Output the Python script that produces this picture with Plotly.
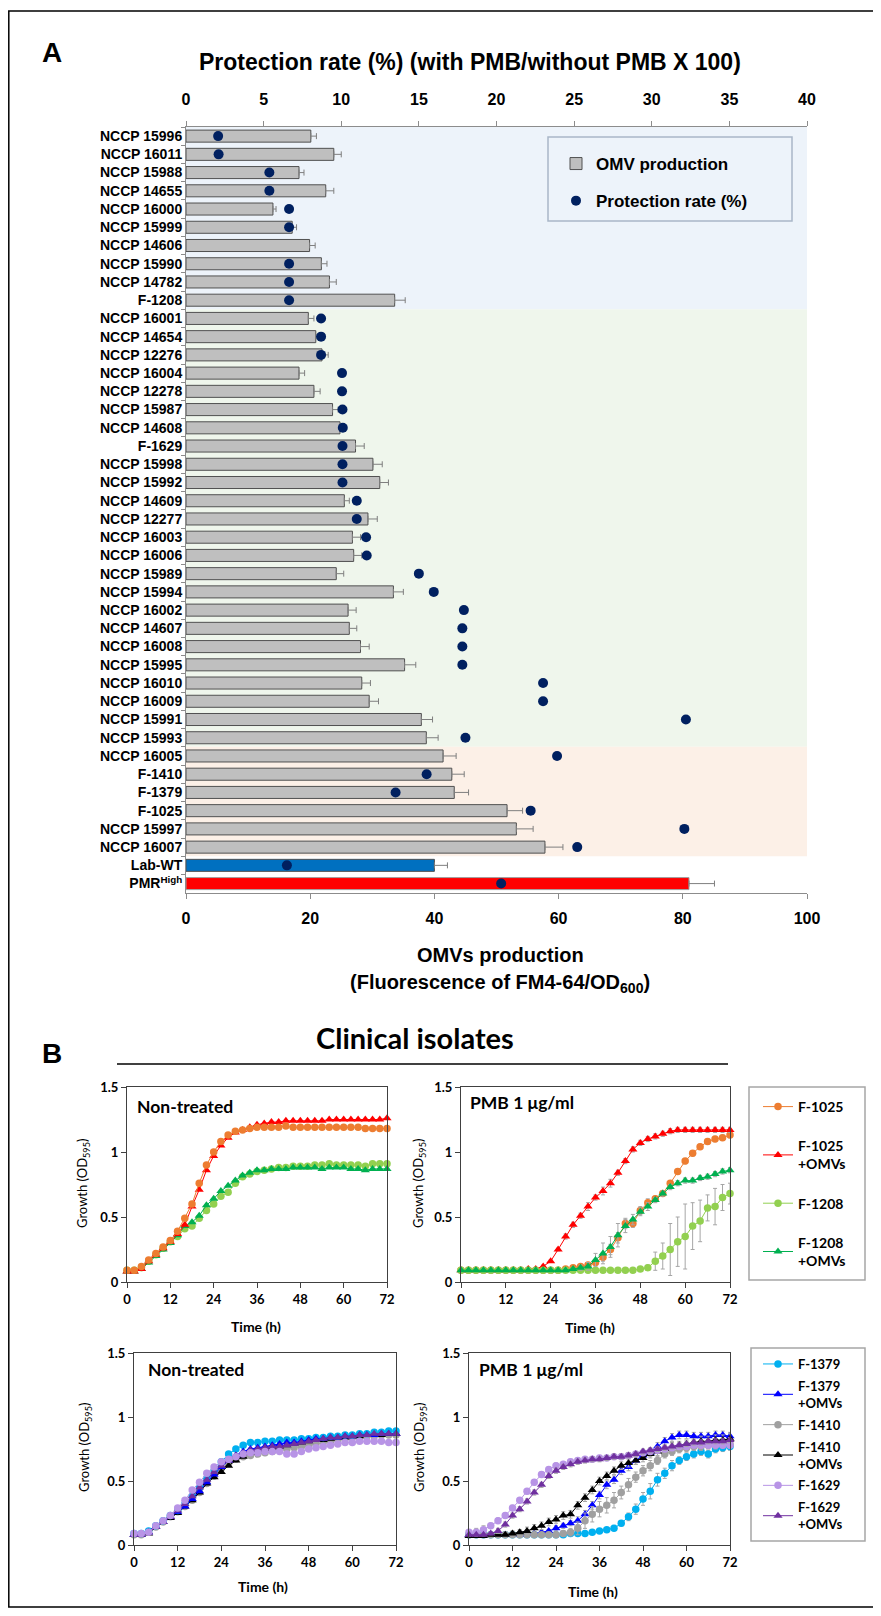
import plotly.graph_objects as go

# page body has an 8px margin: figure is offset by 8px, so map screen px -> figure
OFF = 8
W, H = 881, 1616
FW, FH = W - OFF, H - OFF
def fx(p): return (p - OFF) / FW
def fy(p): return 1 - (p - OFF) / FH

NARROW = "Liberation Sans Narrow, Arial Narrow, Liberation Sans, Arial, sans-serif"
SANS = "Lato, Open Sans, sans-serif"

# ---------------- Panel A data ----------------
categories = [
    "NCCP 15996", "NCCP 16011", "NCCP 15988", "NCCP 14655", "NCCP 16000",
    "NCCP 15999", "NCCP 14606", "NCCP 15990", "NCCP 14782", "F-1208",
    "NCCP 16001", "NCCP 14654", "NCCP 12276", "NCCP 16004", "NCCP 12278",
    "NCCP 15987", "NCCP 14608", "F-1629", "NCCP 15998", "NCCP 15992",
    "NCCP 14609", "NCCP 12277", "NCCP 16003", "NCCP 16006", "NCCP 15989",
    "NCCP 15994", "NCCP 16002", "NCCP 14607", "NCCP 16008", "NCCP 15995",
    "NCCP 16010", "NCCP 16009", "NCCP 15991", "NCCP 15993", "NCCP 16005",
    "F-1410", "F-1379", "F-1025", "NCCP 15997", "NCCP 16007",
    "Lab-WT", "PMR<sup>High</sup>",
]
omv_production = [
    20.1, 23.8, 18.2, 22.5, 14.0, 17.1, 19.9, 21.8, 23.1, 33.6,
    19.7, 20.9, 21.9, 18.2, 20.6, 23.6, 24.8, 27.3, 30.1, 31.2,
    25.5, 29.3, 26.8, 27.0, 24.2, 33.4, 26.1, 26.3, 28.1, 35.2,
    28.3, 29.5, 37.9, 38.7, 41.4, 42.8, 43.2, 51.7, 53.2, 57.8,
    40.0, 81.0,
]
omv_error = [
    0.9, 1.2, 0.8, 1.3, 0.5, 0.7, 0.9, 0.9, 1.1, 1.7,
    0.9, 0.4, 1.0, 0.9, 1.0, 0.9, 0.7, 1.4, 1.5, 1.4,
    0.8, 1.5, 1.3, 1.3, 1.2, 1.6, 1.3, 1.2, 1.4, 1.8,
    1.4, 1.5, 1.8, 1.9, 2.1, 2.0, 2.3, 2.5, 2.7, 2.9,
    2.1, 4.1,
]
protection_rate = [
    2.07, 2.10, 5.37, 5.37, 6.64, 6.64, None, 6.64, 6.64, 6.64,
    8.70, 8.70, 8.70, 10.05, 10.05, 10.08, 10.10, 10.08, 10.08, 10.08,
    11.0, 11.0, 11.6, 11.64, 15.0, 15.96, 17.9, 17.8, 17.8, 17.8,
    23.0, 23.0, 32.2, 18.0, 23.9, 15.5, 13.5, 22.2, 32.1, 25.2,
    6.5, 20.3,
]
omv_ticks = [0, 20, 40, 60, 80, 100]
prot_ticks = [0, 5, 10, 15, 20, 25, 30, 35, 40]

# ---------------- Panel B data ----------------
time_h = [0, 2, 4, 6, 8, 10, 12, 14, 16, 18, 20, 22, 24, 26, 28, 30, 32, 34, 36,
          38, 40, 42, 44, 46, 48, 50, 52, 54, 56, 58, 60, 62, 64, 66, 68, 70, 72]
time_ticks = [0, 12, 24, 36, 48, 60, 72]

# Non-treated, group 1
nt_f1025 = [0.09, 0.09, 0.12, 0.17, 0.22, 0.27, 0.32, 0.39, 0.49, 0.60,
            0.76, 0.90, 1.00, 1.08, 1.13, 1.16, 1.17, 1.18, 1.19, 1.19,
            1.19, 1.19, 1.20, 1.19, 1.19, 1.19, 1.19, 1.19, 1.19, 1.19,
            1.19, 1.19, 1.19, 1.18, 1.18, 1.18, 1.18]
nt_f1025_omv = [0.08, 0.08, 0.10, 0.16, 0.21, 0.26, 0.31, 0.37, 0.44, 0.58,
                0.71, 0.86, 0.97, 1.05, 1.11, 1.15, 1.17, 1.19, 1.21, 1.22,
                1.23, 1.23, 1.24, 1.24, 1.24, 1.24, 1.24, 1.24, 1.25, 1.25,
                1.25, 1.25, 1.25, 1.25, 1.25, 1.25, 1.26]
nt_f1208 = [0.09, 0.09, 0.11, 0.16, 0.21, 0.26, 0.31, 0.35, 0.41, 0.43,
            0.49, 0.55, 0.60, 0.66, 0.69, 0.76, 0.81, 0.83, 0.85, 0.86,
            0.87, 0.88, 0.88, 0.89, 0.89, 0.89, 0.90, 0.90, 0.91, 0.90,
            0.90, 0.90, 0.90, 0.89, 0.91, 0.91, 0.91]
nt_f1208_omv = [0.08, 0.08, 0.10, 0.15, 0.20, 0.25, 0.30, 0.36, 0.43, 0.46,
                0.51, 0.59, 0.64, 0.70, 0.74, 0.78, 0.82, 0.84, 0.86, 0.86,
                0.87, 0.87, 0.87, 0.88, 0.88, 0.88, 0.88, 0.87, 0.88, 0.88,
                0.88, 0.87, 0.87, 0.86, 0.87, 0.87, 0.87]

# PMB 1 ug/ml, group 1
pmb_f1025 = [0.09, 0.09, 0.09, 0.09, 0.09, 0.09, 0.09, 0.09, 0.09, 0.09,
             0.09, 0.09, 0.09, 0.09, 0.10, 0.11, 0.12, 0.13, 0.15, 0.19,
             0.25, 0.34, 0.45, 0.45, 0.55, 0.61, 0.64, 0.68, 0.76, 0.85,
             0.93, 0.99, 1.04, 1.08, 1.10, 1.11, 1.13]
pmb_f1025_err = [0.01, 0.01, 0.01, 0.01, 0.01, 0.01, 0.01, 0.01, 0.01, 0.01,
                 0.01, 0.01, 0.01, 0.01, 0.01, 0.01, 0.01, 0.02, 0.02, 0.03,
                 0.04, 0.04, 0.04, 0.03, 0.03, 0.03, 0.02, 0.02, 0.02, 0.02,
                 0.02, 0.02, 0.02, 0.02, 0.02, 0.02, 0.02]
pmb_f1025_omv = [0.09, 0.09, 0.09, 0.09, 0.09, 0.09, 0.09, 0.09, 0.09, 0.10,
                 0.10, 0.12, 0.16, 0.25, 0.35, 0.44, 0.51, 0.58, 0.65, 0.70,
                 0.76, 0.84, 0.93, 1.02, 1.07, 1.10, 1.12, 1.14, 1.16, 1.17,
                 1.17, 1.17, 1.17, 1.17, 1.17, 1.17, 1.17]
pmb_f1025_omv_err = [0.01, 0.01, 0.01, 0.01, 0.01, 0.01, 0.01, 0.01, 0.01, 0.01,
                     0.01, 0.01, 0.01, 0.01, 0.02, 0.02, 0.02, 0.03, 0.02, 0.03,
                     0.03, 0.02, 0.02, 0.02, 0.02, 0.02, 0.02, 0.02, 0.02, 0.02,
                     0.02, 0.02, 0.02, 0.02, 0.02, 0.02, 0.02]
pmb_f1208 = [0.09, 0.09, 0.09, 0.09, 0.09, 0.09, 0.09, 0.09, 0.09, 0.09,
             0.09, 0.09, 0.09, 0.09, 0.09, 0.09, 0.09, 0.09, 0.09, 0.09,
             0.09, 0.09, 0.09, 0.09, 0.10, 0.11, 0.16, 0.20, 0.25, 0.31,
             0.35, 0.43, 0.47, 0.57, 0.58, 0.65, 0.68]
pmb_f1208_err = [0.01, 0.01, 0.01, 0.01, 0.01, 0.01, 0.01, 0.01, 0.01, 0.01,
                 0.01, 0.01, 0.01, 0.01, 0.01, 0.01, 0.01, 0.01, 0.01, 0.01,
                 0.01, 0.01, 0.01, 0.01, 0.01, 0.02, 0.07, 0.10, 0.20, 0.19,
                 0.25, 0.18, 0.16, 0.10, 0.14, 0.10, 0.08]
pmb_f1208_omv = [0.09, 0.09, 0.09, 0.09, 0.09, 0.09, 0.09, 0.09, 0.09, 0.09,
                 0.09, 0.09, 0.09, 0.09, 0.09, 0.10, 0.11, 0.12, 0.17, 0.22,
                 0.27, 0.36, 0.43, 0.48, 0.54, 0.58, 0.63, 0.68, 0.73, 0.76,
                 0.78, 0.78, 0.80, 0.81, 0.83, 0.85, 0.86]
pmb_f1208_omv_err = [0.01, 0.01, 0.01, 0.01, 0.01, 0.01, 0.01, 0.01, 0.01, 0.01,
                     0.01, 0.01, 0.01, 0.01, 0.01, 0.01, 0.02, 0.03, 0.05, 0.08,
                     0.08, 0.09, 0.05, 0.04, 0.03, 0.03, 0.02, 0.02, 0.02, 0.02,
                     0.02, 0.02, 0.02, 0.02, 0.02, 0.02, 0.02]

# Non-treated, group 2
nt_f1379 = [0.09, 0.09, 0.11, 0.15, 0.19, 0.23, 0.27, 0.32, 0.38, 0.45,
            0.52, 0.58, 0.65, 0.71, 0.75, 0.78, 0.80, 0.80, 0.81, 0.81,
            0.82, 0.82, 0.82, 0.83, 0.83, 0.84, 0.84, 0.85, 0.85, 0.86,
            0.86, 0.87, 0.87, 0.88, 0.88, 0.89, 0.89]
nt_f1379_omv = [0.08, 0.08, 0.10, 0.14, 0.18, 0.22, 0.26, 0.30, 0.36, 0.42,
                0.49, 0.55, 0.61, 0.66, 0.70, 0.73, 0.75, 0.76, 0.77, 0.78,
                0.79, 0.80, 0.80, 0.81, 0.82, 0.83, 0.83, 0.84, 0.84, 0.85,
                0.85, 0.86, 0.86, 0.86, 0.87, 0.87, 0.87]
nt_f1410 = [0.08, 0.08, 0.10, 0.14, 0.18, 0.22, 0.26, 0.30, 0.35, 0.41,
            0.48, 0.54, 0.60, 0.64, 0.67, 0.69, 0.70, 0.71, 0.72, 0.73,
            0.74, 0.75, 0.76, 0.77, 0.78, 0.79, 0.80, 0.81, 0.82, 0.83,
            0.84, 0.84, 0.85, 0.85, 0.86, 0.86, 0.86]
nt_f1410_omv = [0.08, 0.08, 0.09, 0.14, 0.18, 0.21, 0.25, 0.30, 0.35, 0.41,
                0.48, 0.53, 0.57, 0.62, 0.66, 0.69, 0.72, 0.74, 0.75, 0.76,
                0.77, 0.78, 0.79, 0.80, 0.81, 0.82, 0.82, 0.83, 0.84, 0.84,
                0.85, 0.85, 0.86, 0.86, 0.86, 0.87, 0.87]
nt_f1629 = [0.09, 0.09, 0.10, 0.15, 0.19, 0.23, 0.29, 0.35, 0.43, 0.49,
            0.56, 0.61, 0.65, 0.67, 0.69, 0.71, 0.72, 0.72, 0.73, 0.73,
            0.73, 0.71, 0.71, 0.73, 0.75, 0.76, 0.77, 0.78, 0.79, 0.80,
            0.80, 0.81, 0.81, 0.81, 0.81, 0.80, 0.80]
nt_f1629_omv = [0.08, 0.08, 0.10, 0.14, 0.18, 0.22, 0.27, 0.32, 0.38, 0.45,
                0.51, 0.57, 0.62, 0.66, 0.70, 0.72, 0.74, 0.75, 0.76, 0.77,
                0.77, 0.78, 0.79, 0.80, 0.81, 0.82, 0.83, 0.84, 0.84, 0.85,
                0.85, 0.86, 0.86, 0.87, 0.87, 0.87, 0.87]

# PMB 1 ug/ml, group 2
pmb_f1379 = [0.08, 0.08, 0.08, 0.08, 0.08, 0.08, 0.08, 0.08, 0.08, 0.08,
             0.08, 0.08, 0.08, 0.08, 0.09, 0.09, 0.09, 0.10, 0.11, 0.12,
             0.13, 0.17, 0.22, 0.28, 0.36, 0.42, 0.51, 0.56, 0.62, 0.66,
             0.69, 0.71, 0.73, 0.71, 0.75, 0.76, 0.77]
pmb_f1379_err = [0.01, 0.01, 0.01, 0.01, 0.01, 0.01, 0.01, 0.01, 0.01, 0.01,
                 0.01, 0.01, 0.01, 0.01, 0.01, 0.01, 0.01, 0.01, 0.01, 0.01,
                 0.01, 0.02, 0.03, 0.04, 0.05, 0.06, 0.05, 0.04, 0.04, 0.03,
                 0.03, 0.03, 0.03, 0.03, 0.03, 0.03, 0.03]
pmb_f1379_omv = [0.08, 0.08, 0.08, 0.08, 0.08, 0.08, 0.08, 0.08, 0.085, 0.09,
                 0.10, 0.11, 0.13, 0.15, 0.17, 0.19, 0.24, 0.31, 0.39, 0.47,
                 0.51, 0.58, 0.61, 0.66, 0.70, 0.72, 0.77, 0.81, 0.84, 0.86,
                 0.86, 0.85, 0.85, 0.85, 0.86, 0.86, 0.85]
pmb_f1379_omv_err = [0.01, 0.01, 0.01, 0.01, 0.01, 0.01, 0.01, 0.01, 0.01, 0.01,
                     0.01, 0.01, 0.02, 0.02, 0.02, 0.03, 0.03, 0.03, 0.03, 0.03,
                     0.03, 0.03, 0.03, 0.03, 0.03, 0.03, 0.03, 0.03, 0.03, 0.03,
                     0.03, 0.03, 0.03, 0.03, 0.03, 0.03, 0.03]
pmb_f1410 = [0.08, 0.08, 0.08, 0.08, 0.08, 0.08, 0.08, 0.08, 0.08, 0.08,
             0.08, 0.08, 0.08, 0.09, 0.10, 0.13, 0.19, 0.24, 0.28, 0.31,
             0.35, 0.41, 0.47, 0.53, 0.58, 0.62, 0.66, 0.71, 0.73, 0.75,
             0.76, 0.77, 0.77, 0.78, 0.78, 0.79, 0.79]
pmb_f1410_err = [0.01, 0.01, 0.01, 0.01, 0.01, 0.01, 0.01, 0.01, 0.01, 0.01,
                 0.01, 0.01, 0.02, 0.02, 0.03, 0.05, 0.06, 0.06, 0.06, 0.06,
                 0.06, 0.05, 0.05, 0.04, 0.04, 0.04, 0.03, 0.03, 0.03, 0.03,
                 0.03, 0.03, 0.03, 0.03, 0.03, 0.03, 0.03]
pmb_f1410_omv = [0.07, 0.07, 0.07, 0.08, 0.08, 0.08, 0.09, 0.10, 0.11, 0.13,
                 0.15, 0.18, 0.20, 0.23, 0.24, 0.31, 0.37, 0.43, 0.50, 0.54,
                 0.58, 0.62, 0.64, 0.66, 0.68, 0.71, 0.73, 0.75, 0.77, 0.78,
                 0.79, 0.80, 0.81, 0.81, 0.82, 0.82, 0.83]
pmb_f1410_omv_err = [0.01, 0.01, 0.01, 0.02, 0.02, 0.02, 0.02, 0.02, 0.03, 0.03,
                     0.03, 0.03, 0.03, 0.03, 0.03, 0.03, 0.03, 0.03, 0.03, 0.03,
                     0.03, 0.03, 0.03, 0.03, 0.03, 0.03, 0.03, 0.03, 0.03, 0.03,
                     0.03, 0.03, 0.04, 0.04, 0.04, 0.04, 0.04]
pmb_f1629 = [0.10, 0.10, 0.12, 0.15, 0.19, 0.23, 0.29, 0.35, 0.42, 0.49,
             0.55, 0.59, 0.62, 0.63, 0.65, 0.66, 0.67, 0.67, 0.68, 0.68,
             0.69, 0.69, 0.70, 0.71, 0.72, 0.73, 0.74, 0.75, 0.76, 0.77,
             0.77, 0.78, 0.78, 0.78, 0.78, 0.78, 0.78]
pmb_f1629_err = [0.02, 0.03, 0.03, 0.02, 0.02, 0.02, 0.02, 0.02, 0.02, 0.02,
                 0.02, 0.02, 0.02, 0.02, 0.02, 0.02, 0.02, 0.02, 0.02, 0.02,
                 0.02, 0.02, 0.02, 0.02, 0.02, 0.02, 0.02, 0.02, 0.02, 0.02,
                 0.02, 0.02, 0.02, 0.02, 0.02, 0.02, 0.02]
pmb_f1629_omv = [0.08, 0.08, 0.08, 0.09, 0.11, 0.16, 0.23, 0.28, 0.34, 0.41,
                 0.47, 0.54, 0.58, 0.61, 0.63, 0.65, 0.66, 0.67, 0.67, 0.68,
                 0.69, 0.69, 0.70, 0.71, 0.73, 0.74, 0.75, 0.76, 0.77, 0.78,
                 0.79, 0.80, 0.80, 0.81, 0.81, 0.81, 0.82]
pmb_f1629_omv_err = [0.01, 0.01, 0.01, 0.01, 0.02, 0.02, 0.02, 0.02, 0.02, 0.02,
                     0.02, 0.02, 0.02, 0.02, 0.02, 0.02, 0.02, 0.02, 0.02, 0.02,
                     0.02, 0.02, 0.02, 0.02, 0.02, 0.02, 0.02, 0.02, 0.02, 0.02,
                     0.02, 0.02, 0.02, 0.02, 0.02, 0.02, 0.02]

# ---------------- styles ----------------
C_ORANGE, C_RED, C_LGREEN, C_GREEN = "#ED7D31", "#FF0000", "#92D050", "#00B050"
C_CYAN, C_BLUE, C_GRAY, C_BLACK = "#00B0F0", "#0000FF", "#A0A0A0", "#000000"
C_LAV, C_PURPLE = "#B894E6", "#7030A0"

fig = go.Figure()

# ---------------- Panel A traces ----------------
n_clin = 40
fig.add_trace(go.Bar(
    x=omv_production[:n_clin], y=categories[:n_clin], orientation="h",
    width=0.66, marker=dict(color="#BFBFBF", line=dict(color="#505050", width=1)),
    error_x=dict(type="data", symmetric=False, array=omv_error[:n_clin],
                 arrayminus=[0] * n_clin, color="#7F7F7F", thickness=1, width=3),
    name="<b>OMV production</b>", legend="legend", legendgroup="a1",
    xaxis="x", yaxis="y", hoverinfo="x+y"))
fig.add_trace(go.Bar(
    x=[omv_production[40]], y=[categories[40]], orientation="h", width=0.66,
    marker=dict(color="#0070C0", line=dict(color="#505050", width=1)),
    error_x=dict(type="data", symmetric=False, array=[omv_error[40]], arrayminus=[0],
                 color="#7F7F7F", thickness=1, width=3),
    showlegend=False, xaxis="x", yaxis="y"))
fig.add_trace(go.Bar(
    x=[omv_production[41]], y=[categories[41]], orientation="h", width=0.66,
    marker=dict(color="#FF0000", line=dict(color="#A0A0A0", width=1)),
    error_x=dict(type="data", symmetric=False, array=[omv_error[41]], arrayminus=[0],
                 color="#7F7F7F", thickness=1, width=3),
    showlegend=False, xaxis="x", yaxis="y"))
fig.add_trace(go.Scatter(
    x=protection_rate, y=categories, mode="markers",
    marker=dict(color="#002060", size=10, symbol="circle"),
    name="<b>Protection rate (%)</b>", legend="legend", legendgroup="a2",
    xaxis="x2", yaxis="y", cliponaxis=False))

# ---------------- Panel B traces ----------------
def add_series(xa, ya, y, color, symbol, name, legend, show, err=None):
    kw = {}
    if err is not None:
        kw["error_y"] = dict(type="data", array=err, color="#A6A6A6", thickness=1, width=2)
    fig.add_trace(go.Scatter(
        x=time_h, y=y, mode="lines+markers", xaxis=xa, yaxis=ya,
        line=dict(color=color, width=1),
        marker=dict(color=color, size=7.5 if symbol == "circle" else 8, symbol=symbol),
        name=name, legend=legend, showlegend=show, legendgroup=name,
        cliponaxis=False, **kw))

L1 = ["<b>F-1025</b>", "<b>F-1025<br>+OMVs</b>", "<b>F-1208</b>", "<b>F-1208<br>+OMVs</b>"]
add_series("x3", "y3", nt_f1208, C_LGREEN, "circle", L1[2], "legend2", False)
add_series("x3", "y3", nt_f1208_omv, C_GREEN, "triangle-up", L1[3], "legend2", False)
add_series("x3", "y3", nt_f1025_omv, C_RED, "triangle-up", L1[1], "legend2", False)
add_series("x3", "y3", nt_f1025, C_ORANGE, "circle", L1[0], "legend2", False)

add_series("x4", "y4", pmb_f1025, C_ORANGE, "circle", L1[0], "legend2", True, pmb_f1025_err)
add_series("x4", "y4", pmb_f1025_omv, C_RED, "triangle-up", L1[1], "legend2", True, pmb_f1025_omv_err)
add_series("x4", "y4", pmb_f1208, C_LGREEN, "circle", L1[2], "legend2", True, pmb_f1208_err)
add_series("x4", "y4", pmb_f1208_omv, C_GREEN, "triangle-up", L1[3], "legend2", True, pmb_f1208_omv_err)

L2 = ["<b>F-1379</b>", "<b>F-1379<br>+OMVs</b>", "<b>F-1410</b>", "<b>F-1410<br>+OMVs</b>",
      "<b>F-1629</b>", "<b>F-1629<br>+OMVs</b>"]
add_series("x5", "y5", nt_f1410, C_GRAY, "circle", L2[2], "legend3", False)
add_series("x5", "y5", nt_f1410_omv, C_BLACK, "triangle-up", L2[3], "legend3", False)
add_series("x5", "y5", nt_f1379, C_CYAN, "circle", L2[0], "legend3", False)
add_series("x5", "y5", nt_f1379_omv, C_BLUE, "triangle-up", L2[1], "legend3", False)
add_series("x5", "y5", nt_f1629_omv, C_PURPLE, "triangle-up", L2[5], "legend3", False)
add_series("x5", "y5", nt_f1629, C_LAV, "circle", L2[4], "legend3", False)

add_series("x6", "y6", pmb_f1379, C_CYAN, "circle", L2[0], "legend3", True, pmb_f1379_err)
add_series("x6", "y6", pmb_f1379_omv, C_BLUE, "triangle-up", L2[1], "legend3", True, pmb_f1379_omv_err)
add_series("x6", "y6", pmb_f1410, C_GRAY, "circle", L2[2], "legend3", True, pmb_f1410_err)
add_series("x6", "y6", pmb_f1410_omv, C_BLACK, "triangle-up", L2[3], "legend3", True, pmb_f1410_omv_err)
add_series("x6", "y6", pmb_f1629, C_LAV, "circle", L2[4], "legend3", True, pmb_f1629_err)
add_series("x6", "y6", pmb_f1629_omv, C_PURPLE, "triangle-up", L2[5], "legend3", True, pmb_f1629_omv_err)

# ---------------- axes ----------------
A_TOP, A_BOT = 127, 892.7
tickfontA = dict(family=NARROW, size=16, color="black")
axis_gray = "#8C8C8C"
layout = dict(
    width=FW, height=FH, margin=dict(l=0, r=0, t=0, b=0, autoexpand=False),
    paper_bgcolor="white", plot_bgcolor="rgba(0,0,0,0)",
    barmode="overlay", showlegend=True,
    xaxis=dict(domain=[fx(186), fx(807)], range=[0, 100], anchor="y", automargin=False,
               tickvals=omv_ticks, ticktext=[f"<b>{v}</b>" for v in omv_ticks],
               ticks="outside", ticklen=5, tickcolor=axis_gray, showline=True,
               linecolor=axis_gray, linewidth=1, showgrid=False, zeroline=False,
               tickfont=tickfontA, ticklabelstandoff=6),
    xaxis2=dict(overlaying="x", side="top", range=[0, 40], anchor="y", automargin=False,
                tickvals=prot_ticks, ticktext=[f"<b>{v}</b>" for v in prot_ticks],
                ticks="outside", ticklen=5, tickcolor=axis_gray, showline=True,
                linecolor=axis_gray, linewidth=1, showgrid=False, zeroline=False,
                tickfont=tickfontA, ticklabelstandoff=10),
    yaxis=dict(domain=[fy(A_BOT), fy(A_TOP)], type="category", automargin=False,
               categoryorder="array", categoryarray=categories,
               range=[len(categories) - 0.5, -0.5],
               ticks="outside", tickson="boundaries", ticklen=4, tickcolor=axis_gray,
               showline=True, linecolor=axis_gray, linewidth=1, showgrid=False,
               tickfont=dict(family=NARROW, size=14, color="black"),
               tickprefix="<b>", ticksuffix="</b>"),
)

tickfontB = dict(family=SANS, size=13, color="black")
panels = {
    "3": ([127, 387], [1087, 1282]),
    "4": ([461, 730], [1087, 1282]),
    "5": ([134, 396], [1353, 1545]),
    "6": ([469, 730], [1353, 1545]),
}
for k, (xd, yd) in panels.items():
    layout["xaxis" + k] = dict(
        domain=[fx(xd[0]), fx(xd[1])], range=[0, 72], anchor="y" + k, automargin=False,
        tickvals=time_ticks, ticktext=[f"<b>{v}</b>" for v in time_ticks],
        ticks="outside", ticklen=5, tickcolor="#404040", showline=True, mirror=True,
        linecolor="#404040", linewidth=1, showgrid=False, zeroline=False, tickfont=tickfontB)
    layout["yaxis" + k] = dict(
        domain=[fy(yd[1]), fy(yd[0])], range=[0, 1.5], anchor="x" + k, automargin=False,
        tickvals=[0, 0.5, 1, 1.5], ticktext=["<b>0</b>", "<b>0.5</b>", "<b>1</b>", "<b>1.5</b>"],
        ticks="outside", ticklen=5, tickcolor="#404040", showline=True, mirror=True,
        linecolor="#404040", linewidth=1, showgrid=False, zeroline=False, tickfont=tickfontB)

# legends
layout["legend"] = dict(x=fx(556), y=fy(146), xanchor="left", yanchor="top",
                        bgcolor="rgba(0,0,0,0)", borderwidth=0,
                        font=dict(family=NARROW, size=17, color="black"),
                        tracegroupgap=12)
layout["legend2"] = dict(x=fx(758), y=fy(1091), xanchor="left", yanchor="top",
                         bgcolor="rgba(0,0,0,0)", borderwidth=0,
                         font=dict(family=SANS, size=14, color="black"),
                         tracegroupgap=18)
layout["legend3"] = dict(x=fx(758), y=fy(1349), xanchor="left", yanchor="top",
                         bgcolor="rgba(0,0,0,0)", borderwidth=0,
                         font=dict(family=SANS, size=13, color="black"),
                         tracegroupgap=2)

# ---------------- shapes ----------------
shapes = [
    dict(type="rect", xref="paper", yref="paper", x0=fx(8.8), x1=fx(878), y0=fy(1607), y1=fy(11),
         line=dict(color="black", width=1.5), fillcolor="rgba(0,0,0,0)"),
    dict(type="rect", xref="x domain", yref="y", x0=0, x1=1, y0=-0.5, y1=9.5,
         fillcolor="#EDF3FA", line=dict(width=0), layer="below"),
    dict(type="rect", xref="x domain", yref="y", x0=0, x1=1, y0=9.5, y1=33.5,
         fillcolor="#EFF6EC", line=dict(width=0), layer="below"),
    dict(type="rect", xref="x domain", yref="y", x0=0, x1=1, y0=33.5, y1=39.5,
         fillcolor="#FCF0E7", line=dict(width=0), layer="below"),
    dict(type="rect", xref="paper", yref="paper", x0=fx(548), x1=fx(792), y0=fy(221), y1=fy(137),
         line=dict(color="#A9B6C8", width=1.5), fillcolor="rgba(0,0,0,0)"),
    dict(type="rect", xref="paper", yref="paper", x0=fx(749), x1=fx(865), y0=fy(1280), y1=fy(1087),
         line=dict(color="#A6A6A6", width=1.5), fillcolor="rgba(0,0,0,0)"),
    dict(type="rect", xref="paper", yref="paper", x0=fx(751), x1=fx(865), y0=fy(1541), y1=fy(1348),
         line=dict(color="#A6A6A6", width=1.5), fillcolor="rgba(0,0,0,0)"),
    dict(type="line", xref="paper", yref="paper", x0=fx(117), x1=fx(728), y0=fy(1064), y1=fy(1064),
         line=dict(color="black", width=1.5)),
]
layout["shapes"] = shapes

# ---------------- annotations ----------------
def ann(text, x, y, size, family, xanchor="center", angle=0):
    return dict(text=text, x=fx(x), y=fy(y), xref="paper", yref="paper",
                xanchor=xanchor, yanchor="middle", showarrow=False, textangle=angle,
                font=dict(family=family, size=size, color="black"))

annotations = [
    ann("<b>A</b>", 52, 52, 28, "Liberation Sans, Arial, sans-serif"),
    ann("<b>Protection rate (%) (with PMB/without PMB X 100)</b>", 470, 62, 23, NARROW),
    ann("<b>OMVs production</b>", 500, 955, 20, NARROW),
    ann("<b>(Fluorescence of FM4-64/OD<sub>600</sub>)</b>", 500, 983, 20, NARROW),
    ann("<b>B</b>", 52, 1053, 28, "Liberation Sans, Arial, sans-serif"),
    ann("<b>Clinical isolates</b>", 415, 1037, 29, SANS),
    ann("<b>Non-treated</b>", 135, 1106, 17.5, SANS, xanchor="left"),
    ann("<b>PMB 1 μg/ml</b>", 468, 1102, 17.5, SANS, xanchor="left"),
    ann("<b>Non-treated</b>", 146, 1369, 17.5, SANS, xanchor="left"),
    ann("<b>PMB 1 μg/ml</b>", 477, 1369, 17.5, SANS, xanchor="left"),
    ann("Growth (OD<sub>595</sub>)", 83, 1184, 13, SANS, angle=-90),
    ann("Growth (OD<sub>595</sub>)", 419, 1184, 13, SANS, angle=-90),
    ann("Growth (OD<sub>595</sub>)", 85, 1448, 13, SANS, angle=-90),
    ann("Growth (OD<sub>595</sub>)", 420, 1448, 13, SANS, angle=-90),
    ann("<b>Time (h)</b>", 256, 1326, 14, SANS),
    ann("<b>Time (h)</b>", 590, 1327, 14, SANS),
    ann("<b>Time (h)</b>", 263, 1586, 14, SANS),
    ann("<b>Time (h)</b>", 593, 1591, 14, SANS),
]
layout["annotations"] = annotations

fig.update_layout(**layout)
fig.write_html("out.html")
